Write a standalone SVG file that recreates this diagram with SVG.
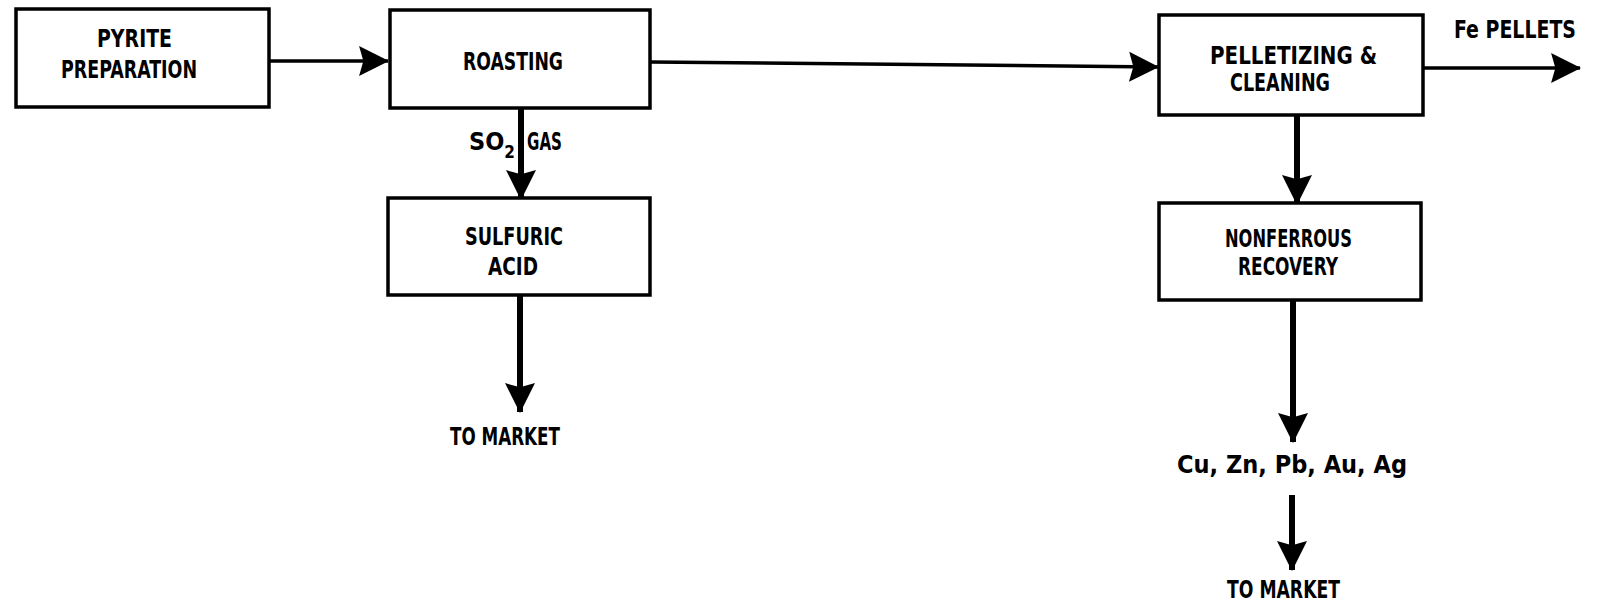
<svg xmlns="http://www.w3.org/2000/svg" width="1599" height="606" viewBox="0 0 1599 606">
<style>
.box{fill:#fff;stroke:#000;stroke-width:3.5}
.t{font-family:"Liberation Sans Narrow","DejaVu Sans Condensed","Liberation Sans",sans-serif;font-weight:bold;font-size:25px;fill:#000}
.h{fill:none;stroke:#000;stroke-width:3.5}
.v{fill:none;stroke:#000;stroke-width:6}
</style>
<defs>
<marker id="ah" markerUnits="userSpaceOnUse" markerWidth="30" markerHeight="30" viewBox="0 0 28 28" refX="27" refY="14" orient="auto">
<path d="M0,0 L28,14 L0,28 L4,14 z" fill="#000"/>
</marker>
</defs>
<g id="connectors">
<path class="h" d="M269,61 L388,61" marker-end="url(#ah)"/>
<path class="h" d="M650,62 L1158,67" marker-end="url(#ah)"/>
<path class="h" d="M1423,68 L1580,68" marker-end="url(#ah)"/>
<path class="v" d="M521,108 L521,199" marker-end="url(#ah)"/>
<path class="v" d="M520,295 L520,412" marker-end="url(#ah)"/>
<path class="v" d="M1297,115 L1297,204" marker-end="url(#ah)"/>
<path class="v" d="M1293,300 L1293,442" marker-end="url(#ah)"/>
<path class="v" d="M1292,495 L1292,570" marker-end="url(#ah)"/>
<text class="t" x="469" y="150" font-size="23">SO<tspan font-size="17" dy="8">2</tspan></text>
<text class="t" x="527" y="150" textLength="35" lengthAdjust="spacingAndGlyphs">GAS</text>
<text class="t" x="1454" y="38" font-size="22" textLength="122" lengthAdjust="spacingAndGlyphs">Fe PELLETS</text>
<text class="t" x="450" y="445" textLength="110" lengthAdjust="spacingAndGlyphs">TO MARKET</text>
<text class="t" x="1177" y="473" textLength="230" lengthAdjust="spacingAndGlyphs">Cu, Zn, Pb, Au, Ag</text>
<text class="t" x="1227" y="598" textLength="113" lengthAdjust="spacingAndGlyphs">TO MARKET</text>
</g>
<g id="pyrite">
<rect class="box" x="16" y="9" width="253" height="98"/>
<text class="t" x="97" y="47" textLength="75" lengthAdjust="spacingAndGlyphs">PYRITE</text>
<text class="t" x="61" y="78" textLength="136" lengthAdjust="spacingAndGlyphs">PREPARATION</text>
</g>
<g id="roasting">
<rect class="box" x="390" y="10" width="260" height="98"/>
<text class="t" x="463" y="70" textLength="100" lengthAdjust="spacingAndGlyphs">ROASTING</text>
</g>
<g id="sulfuric">
<rect class="box" x="388" y="198" width="262" height="97"/>
<text class="t" x="465" y="245" textLength="98" lengthAdjust="spacingAndGlyphs">SULFURIC</text>
<text class="t" x="488" y="275" textLength="50" lengthAdjust="spacingAndGlyphs">ACID</text>
</g>
<g id="pelletizing">
<rect class="box" x="1159" y="15" width="264" height="100"/>
<text class="t" x="1210" y="64" font-size="23" textLength="167" lengthAdjust="spacingAndGlyphs">PELLETIZING &amp;</text>
<text class="t" x="1230" y="91" font-size="23" textLength="100" lengthAdjust="spacingAndGlyphs">CLEANING</text>
</g>
<g id="nonferrous">
<rect class="box" x="1159" y="203" width="262" height="97"/>
<text class="t" x="1225" y="247" textLength="127" lengthAdjust="spacingAndGlyphs">NONFERROUS</text>
<text class="t" x="1238" y="275" textLength="100" lengthAdjust="spacingAndGlyphs">RECOVERY</text>
</g>
</svg>
